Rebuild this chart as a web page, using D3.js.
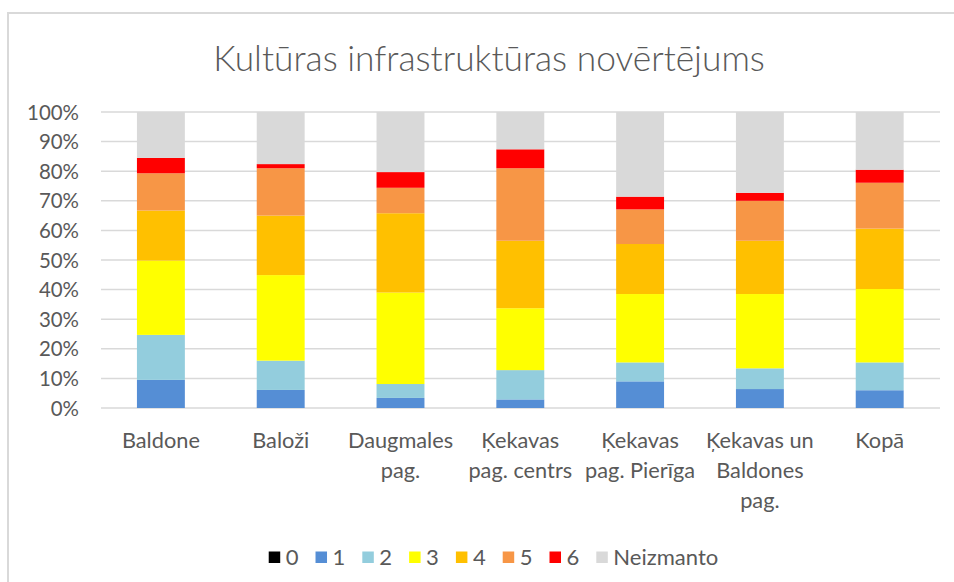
<!DOCTYPE html>
<html><head><meta charset="utf-8">
<script src="https://cdn.jsdelivr.net/npm/d3@7"></script>
<style>html,body{margin:0;padding:0;background:#fff;}svg{display:block;}</style>
</head><body>
<script>
const categories = [["Baldone"],["Baloži"],["Daugmales","pag."],["Ķekavas","pag. centrs"],["Ķekavas","pag. Pierīga"],["Ķekavas un","Baldones","pag."],["Kopā"]];
const seriesNames = ["0","1","2","3","4","5","6","Neizmanto"];
const s0 = [0,0,0,0,0,0,0];
const s1 = [9.5,6.1,3.4,2.9,9.0,6.4,6.0];
const s2 = [15.2,9.9,4.7,9.9,6.4,7.0,9.4];
const s3 = [25.1,28.9,30.9,20.9,23.1,25.1,24.8];
const s4 = [16.9,20.1,26.8,22.8,16.9,18.0,20.4];
const s5 = [12.6,16.0,8.6,24.5,11.7,13.5,15.5];
const s6 = [5.2,1.4,5.3,6.4,4.3,2.7,4.4];
const sN = [15.5,17.6,20.3,12.6,28.6,27.3,19.5];
const yTicks = [0,0.1,0.2,0.3,0.4,0.5,0.6,0.7,0.8,0.9,1];
const colors = ["#000000","#558ed5","#93cddd","#ffff00","#ffc000","#f79646","#ff0000","#d9d9d9"];
const title = "Kultūras infrastruktūras novērtējums";

const W = 954, H = 582;
const FONT = "Lato, 'Noto Sans', sans-serif";
const TXT = "#595959";
const svg = d3.select("body").append("svg").attr("width", W).attr("height", H);

// border
svg.append("path").attr("d", `M8,${H} V13 H${W}`).attr("fill","none").attr("stroke","#d9d9d9").attr("stroke-width",2);

const allSeries = [s0,s1,s2,s3,s4,s5,s6,sN];
const table = categories.map((c,i) => {
  const o = {key: c.join(" ")};
  seriesNames.forEach((n,j) => o[n] = allSeries[j][i]);
  return o;
});
const stacked = d3.stack().keys(seriesNames).offset(d3.stackOffsetExpand)(table);

const x = d3.scaleBand().domain(table.map(d=>d.key)).range([101, 939.6]).paddingInner(0.6).paddingOuter(0.3);
const y = d3.scaleLinear().domain([0,1]).range([408,112]);

function fit(sel, target) {
  const node = sel.node();
  sel.attr("font-size", 20);
  const w = node.getComputedTextLength();
  return 20 * target / w;
}

// gridlines
svg.append("g").selectAll("line").data(yTicks).join("line")
  .attr("x1", 101).attr("x2", 940)
  .attr("y1", d=>y(d)).attr("y2", d=>y(d))
  .attr("stroke", "#d9d9d9").attr("stroke-width", 1.5);

// y axis labels
const yAxis = d3.axisLeft(y).tickValues(yTicks).tickFormat(d3.format(".0%")).tickSize(0).tickPadding(0);
const yg = svg.append("g").attr("transform","translate(79,0)").call(yAxis);
yg.select(".domain").remove();
const probe = svg.append("text").attr("font-family", FONT).text("100%");
const yfs = fit(probe, 52);
probe.remove();
yg.selectAll("text").attr("font-family", FONT).attr("font-size", yfs).attr("fill", TXT).attr("dy","0.35em");

// bars
svg.append("g").selectAll("g").data(stacked).join("g")
  .attr("fill", (d,i)=>colors[i])
  .selectAll("rect").data(d=>d).join("rect")
  .attr("x", d=>x(d.data.key)).attr("width", x.bandwidth())
  .attr("y", d=>y(d[1])).attr("height", d=>Math.max(0, y(d[0])-y(d[1])));

// x labels
const probe2 = svg.append("text").attr("font-family", FONT).text("Baldone");
const xfs = fit(probe2, 78);
probe2.remove();
const xl = svg.append("g");
categories.forEach((c,i) => {
  const t = xl.append("text").attr("font-family", FONT).attr("font-size", xfs).attr("fill", TXT)
    .attr("text-anchor","middle").attr("x", x(table[i].key) + x.bandwidth()/2);
  c.forEach((line,k) => t.append("tspan").attr("x", x(table[i].key) + x.bandwidth()/2).attr("y", 448 + k*30).text(line));
});

// title
const tt = svg.append("text").attr("font-family", FONT).attr("font-weight", 300).attr("fill", TXT).attr("text-anchor","middle")
  .attr("x", 489).attr("y", 71).text(title);
tt.attr("font-size", fit(tt, 552));

// legend
const lg = svg.append("g");
const probe3 = svg.append("text").attr("font-family", FONT).text("Neizmanto");
const lfs = fit(probe3, 105);
probe3.remove();
let cx = 0;
seriesNames.forEach((n,i) => {
  const g = lg.append("g").attr("transform", `translate(${cx},0)`);
  g.append("rect").attr("x",0).attr("y",551.5).attr("width",11.5).attr("height",11.5).attr("fill",colors[i]);
  const t = g.append("text").attr("font-family", FONT).attr("font-size", lfs).attr("fill", TXT)
    .attr("x", 17).attr("y", 557).attr("dy","0.35em").text(n);
  const w = t.node().getComputedTextLength();
  cx += 17 + w + 17;
});
const total = cx - 17;
lg.attr("transform", `translate(${493.5 - total/2},0)`);
</script>
</body></html>
